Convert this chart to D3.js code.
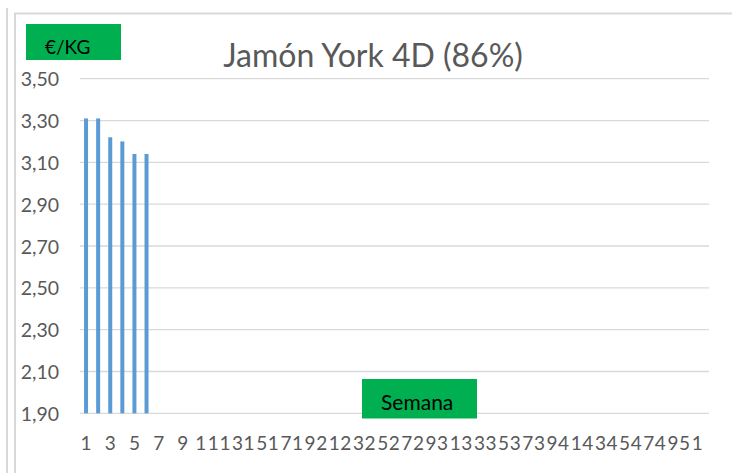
<!DOCTYPE html>
<html>
<head>
<meta charset="utf-8">
<script src="https://cdn.jsdelivr.net/npm/d3@7"></script>
<style>
  html, body { margin: 0; padding: 0; background: #fff; }
  svg { display: block; font-family: Lato, "Open Sans", sans-serif; }
</style>
</head>
<body>
<svg id="chart" width="732" height="473"></svg>
<script>
// data
const weeks = [1, 2, 3, 4, 5, 6, 7, 8, 9, 10, 11, 12, 13, 14, 15, 16, 17, 18, 19, 20,
  21, 22, 23, 24, 25, 26, 27, 28, 29, 30, 31, 32, 33, 34, 35, 36, 37, 38, 39, 40,
  41, 42, 43, 44, 45, 46, 47, 48, 49, 50, 51, 52];
const prices = [3.31, 3.31, 3.22, 3.20, 3.14, 3.14];
const xTickWeeks = [1, 3, 5, 7, 9, 11, 13, 15, 17, 19, 21, 23, 25, 27, 29, 31, 33, 35,
  37, 39, 41, 43, 45, 47, 49, 51];
const yTicks = [1.9, 2.1, 2.3, 2.5, 2.7, 2.9, 3.1, 3.3, 3.5];

const title = "Jamón York 4D (86%)";
const yTitle = "€/KG";
const xTitle = "Semana";

const svg = d3.select("#chart");
const plotL = 80, plotR = 709, plotT = 78.7, plotB = 413.3;

// frame lines
svg.append("line")
  .attr("x1", 7).attr("x2", 7).attr("y1", 8).attr("y2", 473)
  .attr("stroke", "#d9d9d9").attr("stroke-width", 2);
svg.append("path")
  .attr("d", "M15,473V13.5H732")
  .attr("fill", "none").attr("stroke", "#d9d9d9").attr("stroke-width", 2);

const x = d3.scaleBand()
  .domain(weeks)
  .range([plotL, plotR])
  .paddingInner(0.67)
  .paddingOuter(0.335);

const y = d3.scaleLinear()
  .domain([1.9, 3.5])
  .range([plotB, plotT]);

const comma = v => d3.format(".2f")(v).replace(".", ",");

// gridlines
svg.append("g")
  .selectAll("line")
  .data(yTicks).enter()
  .append("line")
  .attr("x1", plotL).attr("x2", plotR)
  .attr("y1", d => y(d)).attr("y2", d => y(d))
  .attr("stroke", "#d9d9d9").attr("stroke-width", 1.3);

// Y axis
const yAxis = svg.append("g")
  .attr("transform", "translate(" + (plotL - 21) + ",0)")
  .call(d3.axisLeft(y).tickValues(yTicks).tickFormat(comma).tickSize(0).tickPadding(0));
yAxis.select(".domain").remove();
yAxis.selectAll("text")
  .attr("font-family", "Lato, sans-serif")
  .attr("font-size", 19.5)
  .attr("fill", "#595959")
  .attr("dy", "0.36em");

// bars
svg.append("g")
  .selectAll("rect")
  .data(prices).enter()
  .append("rect")
  .attr("x", (d, i) => x(weeks[i]))
  .attr("width", x.bandwidth())
  .attr("y", d => y(d))
  .attr("height", d => y(1.9) - y(d))
  .attr("fill", "#5b9bd5");

// X axis
const xAxis = svg.append("g")
  .attr("transform", "translate(0," + plotB + ")")
  .call(d3.axisBottom(x).tickValues(xTickWeeks).tickSize(0).tickPadding(0));
xAxis.select(".domain").remove();
xAxis.selectAll("text")
  .attr("font-family", "Lato, sans-serif")
  .attr("font-size", 19)
  .attr("letter-spacing", 1.6)
  .attr("fill", "#595959")
  .attr("y", 37)
  .attr("dx", 0.8)
  .attr("dy", 0);

// title
svg.append("text")
  .attr("x", 373).attr("y", 66.7)
  .attr("text-anchor", "middle")
  .attr("font-size", 32)
  .attr("fill", "#595959")
  .text(title);

// green label boxes
svg.append("rect")
  .attr("x", 26).attr("y", 24).attr("width", 95).attr("height", 36)
  .attr("fill", "#00b050");
svg.append("text")
  .attr("x", 45).attr("y", 54)
  .attr("font-size", 19)
  .attr("fill", "#000")
  .text(yTitle);

svg.append("rect")
  .attr("x", 362).attr("y", 379).attr("width", 115).attr("height", 39.5)
  .attr("fill", "#00b050");
svg.append("text")
  .attr("x", 381).attr("y", 409.5)
  .attr("font-size", 21)
  .attr("fill", "#000")
  .text(xTitle);
</script>
</body>
</html>
